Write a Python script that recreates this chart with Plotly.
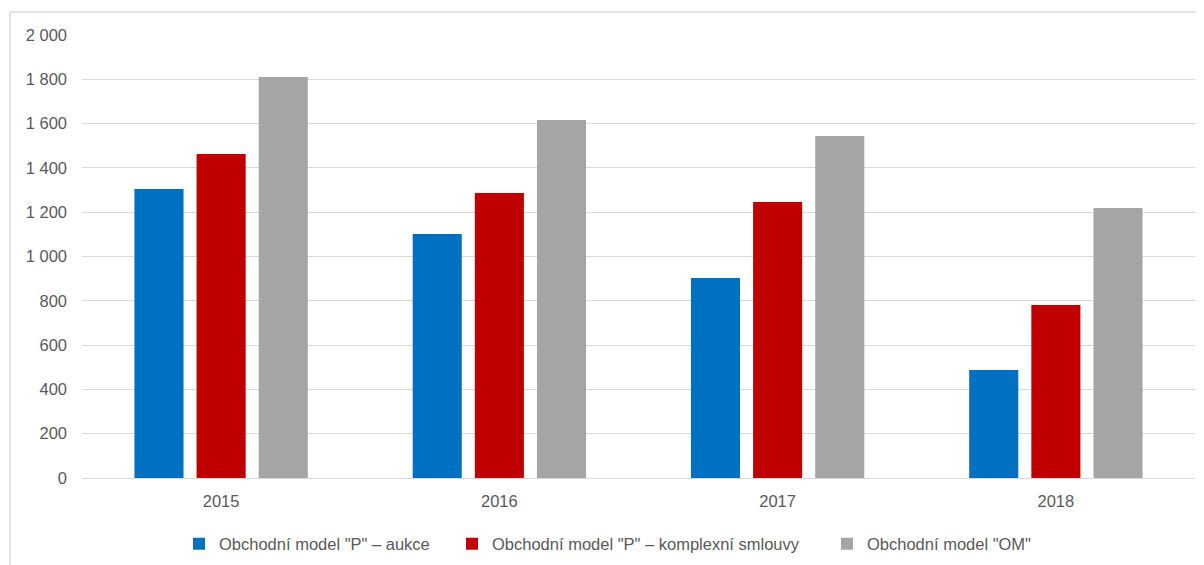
import plotly.graph_objects as go

years = ["2015", "2016", "2017", "2018"]
series_names = ['Obchodní model "P" – aukce', 'Obchodní model "P" – komplexní smlouvy', 'Obchodní model "OM"']
aukce = [1305, 1102, 903, 488]
komplexni = [1463, 1287, 1246, 781]
om = [1810, 1616, 1544, 1219]
colors = ["#0070C0", "#C00000", "#A5A5A5"]

# page body has an 8px margin; figure coordinates are screen coordinates minus 8
OFF = 8
W, H = 1204 - OFF, 565 - OFF
ml, mr, mt, mb = 82 - OFF, 9, 35 - OFF, 87
pw = W - ml - mr
ph = H - mt - mb

def px(x):
    return (x - OFF - ml) / pw

def py(y):
    return (H - mb - (y - OFF)) / ph

FONT = "Liberation Sans, Arial, sans-serif"
FS = 16.5
TXT = "#595959"

legend_ids = ["legend", "legend2", "legend3"]
legend_text_x = [216, 489, 864]

fig = go.Figure()
for name, vals, c, lid in zip(series_names, [aukce, komplexni, om], colors, legend_ids):
    fig.add_trace(go.Bar(x=years, y=vals, name=name, legend=lid,
                         marker=dict(color=c, line=dict(width=0))))

layout_legends = {}
for lid, tx in zip(legend_ids, legend_text_x):
    layout_legends[lid] = dict(orientation="h", x=px(tx - 37), xanchor="left",
                               y=py(544), yanchor="middle", bgcolor="rgba(0,0,0,0)",
                               font=dict(size=FS, color=TXT, family=FONT),
                               itemwidth=30)

fig.update_layout(
    width=W, height=H,
    margin=dict(l=ml, r=mr, t=mt, b=mb, autoexpand=False),
    paper_bgcolor="white", plot_bgcolor="white",
    separators=", ",
    barmode="group", bargap=0.33, bargroupgap=0.21,
    font=dict(family=FONT, size=FS, color=TXT),
    xaxis=dict(showgrid=False, showline=True, linecolor="#D9D9D9", linewidth=1,
               ticks="", tickfont=dict(size=FS, color=TXT), ticklabelstandoff=8,
               automargin=False),
    yaxis=dict(range=[0, 2000], dtick=200, tickformat=",d", showgrid=True,
               gridcolor="#D9D9D9", gridwidth=1, zeroline=False, showline=False,
               tickfont=dict(size=FS, color=TXT), ticklabelstandoff=14,
               automargin=False),
    showlegend=True,
    **layout_legends,
)
fig.add_shape(type="rect", xref="paper", yref="paper",
              x0=px(10), x1=px(1215), y0=py(580), y1=py(12),
              line=dict(color="#D9D9D9", width=1.5), fillcolor="rgba(0,0,0,0)", layer="below")

fig.write_html("out.html")
